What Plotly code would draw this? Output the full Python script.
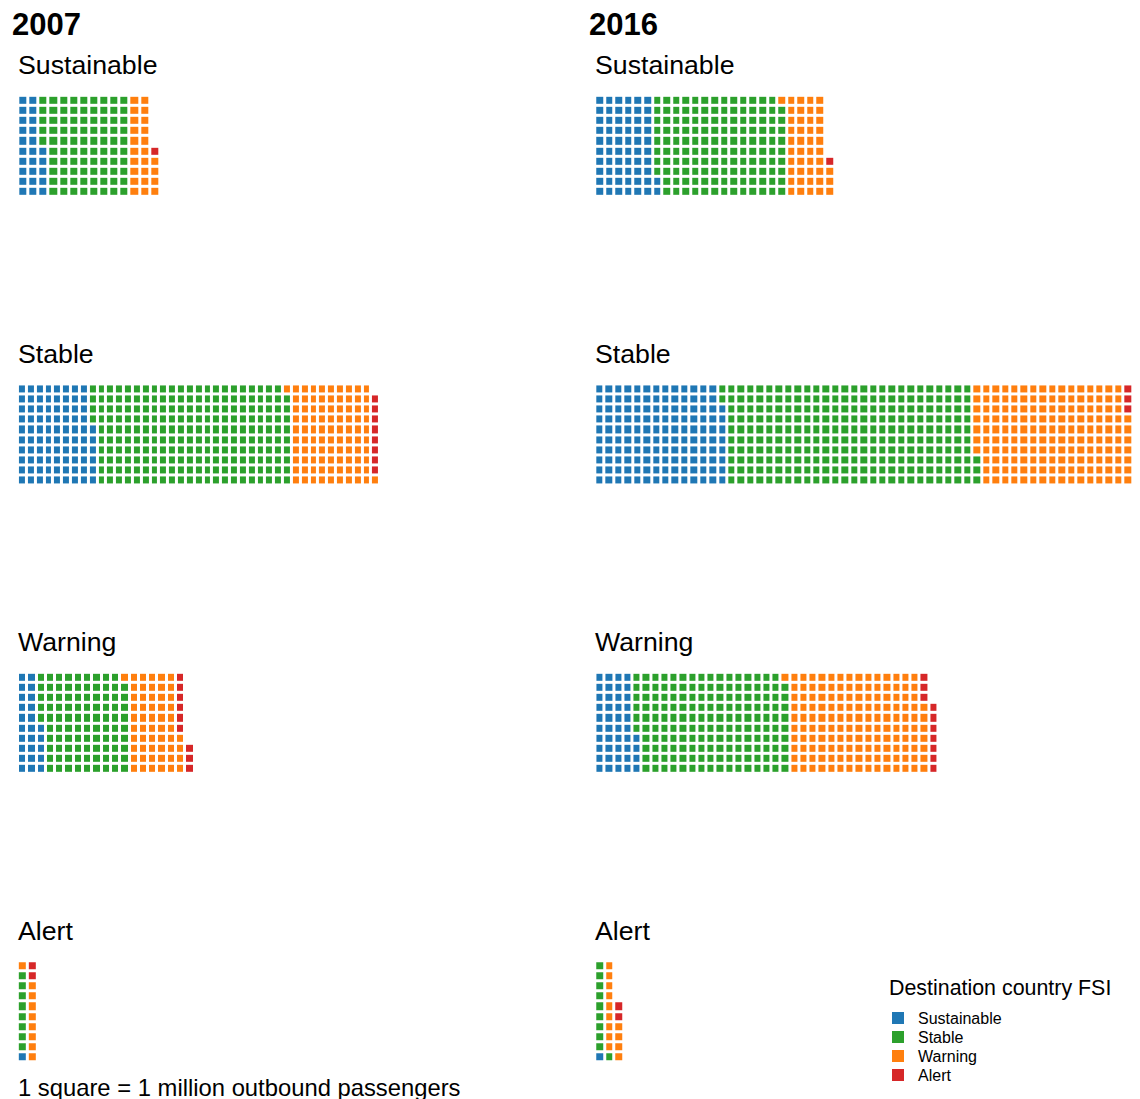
import plotly.graph_objects as go

# Outbound passengers (millions) by origin country FSI group and destination FSI group
years = ["2007", "2016"]
origin_groups = ["Sustainable", "Stable", "Warning", "Alert"]
dest_groups = ["Sustainable", "Stable", "Warning", "Alert"]

counts_2007 = {
    "Sustainable": [25, 85, 24, 1],
    "Stable": [86, 223, 92, 8],
    "Warning": [25, 94, 55, 9],
    "Alert": [1, 8, 9, 2],
}
counts_2016 = {
    "Sustainable": [62, 137, 44, 1],
    "Stable": [138, 265, 164, 10],
    "Warning": [44, 165, 148, 10],
    "Alert": [1, 10, 13, 2],
}

colors = ["#1f77b4", "#2ca02c", "#ff7f0e", "#d62728"]

W, H = 1140, 1099
ROWS = 10
FONT = "Liberation Sans, Arial, sans-serif"

# pixel extents (left, right) of each waffle - layout only
panel_x = {
    ("2007", "Sustainable"): (10.3, 152.1),
    ("2007", "Stable"): (9.9, 372.1),
    ("2007", "Warning"): (10.0, 186.6),
    ("2007", "Alert"): (9.8, 29.4),
    ("2016", "Sustainable"): (587.2, 826.8),
    ("2016", "Stable"): (587.3, 1134.4),
    ("2016", "Warning"): (587.4, 930.3),
    ("2016", "Alert"): (587.2, 616.2),
}
panel_top = [87.8, 376.4, 664.8, 953.2]
panel_h = 101.0


def waffle_matrix(values):
    total = sum(values)
    ncols = (total + ROWS - 1) // ROWS
    z = [[None] * ncols for _ in range(ROWS)]
    k = 0
    for cat, v in enumerate(values):
        for _ in range(v):
            z[k % ROWS][k // ROWS] = cat
            k += 1
    return z, ncols


scale = []
for i, c in enumerate(colors):
    scale.append([i / 4, c])
    scale.append([(i + 1) / 4, c])

fig = go.Figure()
layout = {}
n = 0
for year, data in zip(years, [counts_2007, counts_2016]):
    for gi, g in enumerate(origin_groups):
        n += 1
        z, ncols = waffle_matrix(data[g])
        xa = "x" if n == 1 else f"x{n}"
        ya = "y" if n == 1 else f"y{n}"
        fig.add_trace(go.Heatmap(
            z=z,
            x=list(range(ncols)),
            y=list(range(ROWS)),
            xaxis=xa, yaxis=ya,
            colorscale=scale, zmin=-0.5, zmax=3.5,
            showscale=False, xgap=3, ygap=3,
            hoverinfo="skip",
        ))
        left, right = panel_x[(year, g)]
        top = panel_top[gi]
        layout["xaxis" if n == 1 else f"xaxis{n}"] = dict(
            domain=[left / W, right / W], range=[-0.5, ncols - 0.5],
            visible=False, fixedrange=True, anchor=ya)
        layout["yaxis" if n == 1 else f"yaxis{n}"] = dict(
            domain=[1 - (top + panel_h) / H, 1 - top / H],
            range=[-0.5, ROWS - 0.5], visible=False, fixedrange=True,
            anchor=xa)

# legend (drawn on its own small axis)
n += 1
fig.add_trace(go.Scatter(
    x=[0] * len(dest_groups), y=list(range(len(dest_groups))),
    mode="markers", xaxis=f"x{n}", yaxis=f"y{n}",
    marker=dict(symbol="square", size=12, color=colors),
    hoverinfo="skip", showlegend=False,
))
leg_top, leg_bot = 1000.5, 1076.5
layout[f"xaxis{n}"] = dict(domain=[880 / W, 900 / W], range=[-1, 1],
                           visible=False, fixedrange=True, anchor=f"y{n}")
layout[f"yaxis{n}"] = dict(domain=[1 - leg_bot / H, 1 - leg_top / H],
                           range=[len(dest_groups) - 0.5, -0.5],
                           visible=False, fixedrange=True, anchor=f"x{n}")

annotations = []
for i, name in enumerate(dest_groups):
    annotations.append(dict(text=name, x=908 / W, y=i, xref="paper",
                            yref=f"y{n}", xanchor="left", yanchor="middle",
                            showarrow=False,
                            font=dict(size=16, color="black", family=FONT)))

for xi, year in zip([2, 579], years):
    annotations.append(dict(text=f"<b>{year}</b>", x=xi / W, y=1 - 17 / H,
                            xref="paper", yref="paper", xanchor="left",
                            yanchor="middle", showarrow=False,
                            font=dict(size=31, color="black", family=FONT)))
    for gi, g in enumerate(origin_groups):
        annotations.append(dict(text=g, x=(xi + 6) / W,
                                y=1 - (57 + gi * 288.6) / H,
                                xref="paper", yref="paper", xanchor="left",
                                yanchor="middle", showarrow=False,
                                font=dict(size=26.7, color="black", family=FONT)))

annotations.append(dict(text="1 square = 1 million outbound passengers",
                        x=8 / W, y=1 - 1079 / H, xref="paper", yref="paper",
                        xanchor="left", yanchor="middle", showarrow=False,
                        font=dict(size=23.8, color="black", family=FONT)))
annotations.append(dict(text="Destination country FSI",
                        x=879 / W, y=1 - 980 / H, xref="paper", yref="paper",
                        xanchor="left", yanchor="middle", showarrow=False,
                        font=dict(size=21.4, color="black", family=FONT)))

fig.update_layout(
    width=W, height=H,
    margin=dict(l=0, r=0, t=0, b=0),
    paper_bgcolor="white", plot_bgcolor="white",
    annotations=annotations,
    showlegend=False,
    **layout,
)

fig.write_html("out.html")
